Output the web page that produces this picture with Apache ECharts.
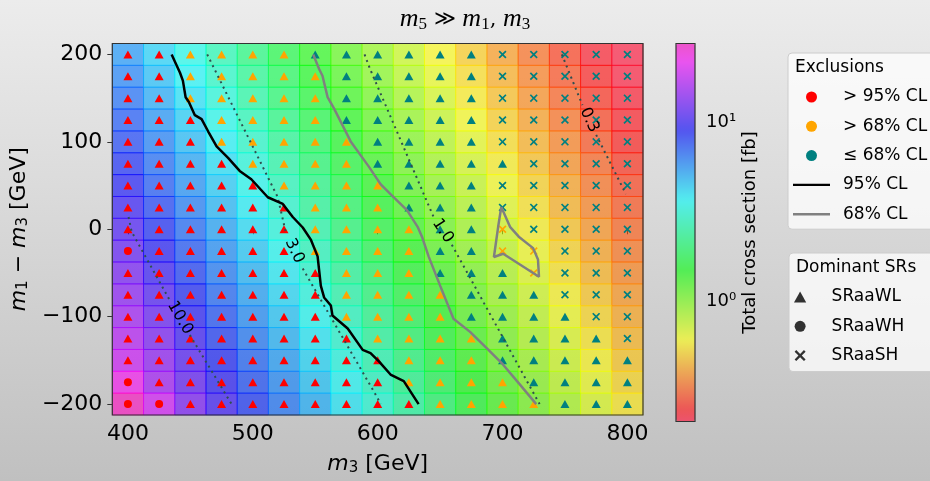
<!DOCTYPE html>
<html>
<head>
<meta charset="utf-8">
<title>m5 &gt;&gt; m1, m3</title>
<script src="https://cdn.jsdelivr.net/npm/echarts@6/dist/echarts.min.js"></script>
<style>
  html, body { margin: 0; padding: 0; }
  #chart { width: 930px; height: 481px; background: linear-gradient(to bottom, #ececec, #c0c0c0); }
</style>
</head>
<body>
<div id="chart"></div>
<script>
// grid points: m3 along x, m1 - m3 along y (rows listed from top to bottom)
const m3Values = [400, 425, 450, 475, 500, 525, 550, 575, 600, 625, 650, 675, 700, 725, 750, 775, 800];
const dmValues = [200, 175, 150, 125, 100, 75, 50, 25, 0, -25, -50, -75, -100, -125, -150, -175, -200];

// total cross section [fb], one row per dmValues entry, one column per m3Values entry
const crossSection = [
  [5.51, 4.35, 3.45, 2.74, 2.19, 1.75, 1.41, 1.14, 0.919, 0.747, 0.608, 0.498, 0.408, 0.337, 0.278, 0.230, 0.212],
  [5.99, 4.73, 3.74, 2.96, 2.36, 1.89, 1.52, 1.23, 0.990, 0.800, 0.653, 0.534, 0.438, 0.360, 0.297, 0.246, 0.216],
  [6.50, 5.13, 4.06, 3.22, 2.56, 2.05, 1.65, 1.32, 1.07, 0.864, 0.703, 0.573, 0.469, 0.385, 0.318, 0.263, 0.225],
  [7.08, 5.57, 4.40, 3.49, 2.77, 2.21, 1.77, 1.43, 1.15, 0.929, 0.755, 0.615, 0.502, 0.412, 0.340, 0.281, 0.236],
  [7.70, 6.06, 4.78, 3.78, 3.00, 2.39, 1.91, 1.54, 1.24, 1.00, 0.811, 0.660, 0.539, 0.442, 0.364, 0.300, 0.248],
  [8.37, 6.58, 5.19, 4.10, 3.26, 2.59, 2.07, 1.66, 1.33, 1.08, 0.873, 0.710, 0.578, 0.473, 0.388, 0.321, 0.266],
  [9.14, 7.17, 5.65, 4.46, 3.53, 2.81, 2.24, 1.79, 1.44, 1.16, 0.939, 0.763, 0.621, 0.508, 0.417, 0.343, 0.284],
  [9.97, 7.80, 6.13, 4.84, 3.83, 3.05, 2.42, 1.94, 1.56, 1.26, 1.01, 0.819, 0.667, 0.546, 0.446, 0.367, 0.303],
  [10.9, 8.50, 6.66, 5.25, 4.15, 3.29, 2.62, 2.09, 1.68, 1.35, 1.09, 0.882, 0.717, 0.583, 0.478, 0.393, 0.324],
  [11.8, 9.26, 7.25, 5.71, 4.51, 3.57, 2.84, 2.26, 1.81, 1.45, 1.18, 0.946, 0.770, 0.628, 0.513, 0.420, 0.347],
  [12.9, 10.1, 7.90, 6.21, 4.89, 3.87, 3.07, 2.44, 1.96, 1.57, 1.26, 1.02, 0.829, 0.674, 0.550, 0.451, 0.371],
  [14.0, 11.0, 8.60, 6.74, 5.32, 4.20, 3.34, 2.65, 2.12, 1.70, 1.36, 1.10, 0.892, 0.725, 0.591, 0.483, 0.397],
  [15.4, 12.0, 9.37, 7.34, 5.78, 4.56, 3.61, 2.87, 2.29, 1.83, 1.47, 1.19, 0.959, 0.778, 0.634, 0.518, 0.425],
  [16.8, 13.1, 10.2, 7.99, 6.28, 4.95, 3.92, 3.10, 2.48, 1.98, 1.59, 1.28, 1.03, 0.837, 0.681, 0.556, 0.455],
  [18.4, 14.3, 11.2, 8.70, 6.81, 5.38, 4.25, 3.37, 2.68, 2.14, 1.72, 1.38, 1.11, 0.900, 0.731, 0.596, 0.488],
  [22.5, 15.6, 11.9, 9.49, 7.42, 5.84, 4.61, 3.65, 2.90, 2.31, 1.85, 1.49, 1.20, 0.969, 0.787, 0.640, 0.523],
  [27.7, 19.0, 13.2, 10.3, 8.09, 6.36, 5.01, 3.96, 3.14, 2.50, 2.00, 1.61, 1.29, 1.05, 0.846, 0.688, 0.561]
];

// per point: exclusion (r >95%, o >68%, t <=68%) + dominant SR (^ SRaaWL, o SRaaWH, x SRaaSH)
const pointCodes = [
  'r^ r^ o^ o^ o^ o^ t^ t^ t^ t^ t^ t^ tx tx tx tx tx',
  'r^ r^ o^ o^ o^ o^ o^ t^ t^ t^ t^ t^ tx tx tx tx tx',
  'r^ r^ o^ o^ o^ o^ o^ t^ t^ t^ t^ t^ tx tx tx tx tx',
  'r^ r^ r^ o^ o^ o^ o^ t^ t^ t^ t^ t^ tx tx tx tx tx',
  'r^ r^ r^ o^ o^ o^ o^ o^ t^ t^ t^ t^ tx tx tx tx tx',
  'r^ r^ r^ r^ o^ o^ o^ o^ t^ t^ t^ t^ t^ tx tx tx tx',
  'r^ r^ r^ r^ r^ o^ o^ o^ o^ t^ t^ t^ tx tx tx tx tx',
  'r^ r^ r^ r^ r^ r^ o^ o^ o^ t^ t^ t^ tx tx tx tx tx',
  'r^ r^ r^ r^ r^ r^ o^ o^ o^ o^ t^ t^ ox tx tx tx tx',
  'ro r^ r^ r^ r^ r^ o^ o^ o^ o^ t^ t^ ox ox tx tx tx',
  'r^ r^ r^ r^ r^ r^ r^ o^ o^ o^ t^ t^ t^ ox tx tx tx',
  'r^ r^ r^ r^ r^ r^ r^ o^ o^ o^ o^ t^ t^ t^ tx tx tx',
  'r^ r^ r^ r^ r^ r^ r^ o^ o^ o^ o^ t^ t^ t^ t^ tx tx',
  'r^ r^ r^ r^ r^ r^ r^ r^ o^ o^ o^ o^ t^ t^ t^ t^ tx',
  'r^ r^ r^ r^ r^ r^ r^ r^ r^ o^ o^ o^ t^ t^ t^ t^ t^',
  'ro r^ r^ r^ r^ r^ r^ r^ r^ o^ o^ o^ o^ t^ t^ t^ t^',
  'ro ro r^ r^ r^ r^ r^ r^ r^ r^ o^ o^ o^ o^ t^ t^ t^'
];

// exclusion contours [m3, m1 - m3]
const cl95Line = [[435, 200], [441.7, 179], [444, 170], [446.2, 151], [448.8, 145.6], [453.6, 130.5], [459, 126],
  [464.3, 111.8], [471, 94.8], [480.2, 81.7], [489.5, 66.7], [498.8, 57.2], [512, 36.6], [524, 29], [532, 14],
  [540, 2], [546.6, -12.2], [551.9, -31], [554.5, -64.8], [557.1, -78], [562.5, -87.3], [563.8, -98.6],
  [576, -113.6], [588, -138], [594.3, -141.7], [601, -151.2], [610.3, -166.2], [620.9, -173.7], [632.8, -200]];
const cl68Line = [[548.4, 200], [553.2, 183], [555.8, 175.6], [559.9, 151.2], [565.1, 138], [578.4, 100.5],
  [592.5, 72.5], [602.3, 51.6], [610.3, 40.3], [623.6, 21.6], [632, 2.8], [635.5, -8.5], [640.8, -31],
  [650.1, -64.8], [660.7, -102.3], [674, -117.4], [687.3, -136.1], [700.5, -155], [713.8, -177.5], [727, -200]];
const cl68Island = [[699, 25.4], [696.5, 2.8], [693.1, -31.8], [700.5, -28], [729.2, -54.3], [728.4, -34.7],
  [724.5, -21.6], [713, -8.5], [706, 2.8], [699, 25.4]];

// dotted cross-section contours [fb]; each is split where its label sits
const xsecLevels = ['10.0', '3.0', '1.0', '0.3'];
const xsecLines = [
  [[[400.5, 14], [403, -3], [433.7, -81.7]], [[449.6, -121], [483, -200]]],
  [[[463.5, 200], [520, 36.6], [526.6, -4.7]], [[540, -45], [599.7, -192.5], [602.3, -200]]],
  [[[589.5, 200], [594, 183], [644.8, 14]], [[659.4, -17.8], [729.7, -200]]],
  [[[747.5, 200], [764, 142]], [[775, 108], [798.8, 40.3]]]
];

const xTicks = [400, 500, 600, 700, 800];
const yTicks = [-200, -100, 0, 100, 200];
const cbarMajor = [1, 10];
const cbarMinor = [0.3, 0.4, 0.5, 0.6, 0.7, 0.8, 0.9, 2, 3, 4, 5, 6, 7, 8, 9, 20];

// ---------------------------------------------------------------------------

const FONT = 'DejaVu Sans';
const levelNames = { r: '> 95% CL', o: '> 68% CL', t: '≤ 68% CL' };
const levelColors = { r: '#ff0000', o: '#ffa500', t: '#008080' };
const srNames = { '^': 'SRaaWL', 'o': 'SRaaWH', 'x': 'SRaaSH' };

const X_PATH = 'path://M0,1.5L1.5,0L5,3.5L8.5,0L10,1.5L6.5,5L10,8.5L8.5,10L5,6.5L1.5,10L0,8.5L3.5,5Z';
const TRI_PATH = 'path://M5,0L10,9L0,9Z';
const LINE_PATH = 'path://M0,0H37V2.4H0Z';
const plotSymbols = { '^': 'triangle', 'o': 'circle', 'x': X_PATH };
const plotSizes = { '^': [9, 8], 'o': 8, 'x': 8 };
const legendSymbols = { '^': TRI_PATH, 'o': 'circle', 'x': X_PATH };

// matplotlib gist_rainbow, drawn with alpha 0.6 like the original
const RAINBOW = [[0, 255, 0, 41], [0.03, 255, 0, 0], [0.215, 255, 255, 0], [0.4, 0, 255, 0],
  [0.586, 0, 255, 255], [0.77, 0, 0, 255], [0.954, 255, 0, 255], [1, 255, 0, 191]];
function rainbow(f) {
  let i = 1;
  while (i < RAINBOW.length - 1 && f > RAINBOW[i][0]) i++;
  const a = RAINBOW[i - 1], b = RAINBOW[i];
  const t = (f - a[0]) / (b[0] - a[0]);
  const c = [1, 2, 3].map(k => Math.round(a[k] + (b[k] - a[k]) * t));
  return `rgba(${c[0]},${c[1]},${c[2]},0.6)`;
}
const cmapColors = [];
for (let i = 0; i <= 60; i++) cmapColors.push(rainbow(i / 60));

const halfX = (m3Values[1] - m3Values[0]) / 2;
const halfY = (dmValues[0] - dmValues[1]) / 2;

const cells = [];
dmValues.forEach((dm, i) => m3Values.forEach((m3, j) => cells.push([m3, dm, Math.log10(crossSection[i][j])])));
const allXsec = crossSection.flat();
const logMin = Math.log10(Math.min(...allXsec));
const logMax = Math.log10(Math.max(...allXsec));

const series = [];

// cross-section cells
series.push({
  type: 'custom', name: 'Total cross section', xAxisIndex: 0, yAxisIndex: 0,
  data: cells, encode: { x: 0, y: 1 }, z: 1, silent: true,
  renderItem: (params, api) => {
    const x = api.value(0), y = api.value(1);
    const p0 = api.coord([x - halfX, y + halfY]);
    const p1 = api.coord([x + halfX, y - halfY]);
    const c = api.visual('color');
    return {
      type: 'rect',
      shape: { x: p0[0], y: p0[1], width: p1[0] - p0[0], height: p1[1] - p0[1] },
      style: { fill: c, stroke: c, lineWidth: 1 }
    };
  }
});

// markers by exclusion level, symbol by dominant SR
['r', 'o', 't'].forEach(lv => {
  const pts = [];
  pointCodes.forEach((row, i) => row.split(' ').forEach((code, j) => {
    if (code[0] !== lv) return;
    pts.push({ value: [m3Values[j], dmValues[i]], symbol: plotSymbols[code[1]], symbolSize: plotSizes[code[1]] });
  }));
  series.push({
    type: 'scatter', name: levelNames[lv], data: pts, z: 3, silent: true,
    itemStyle: { color: levelColors[lv], opacity: 1 }
  });
});

// dotted cross-section contours
xsecLines.forEach((segs, k) => segs.forEach(seg => series.push({
  type: 'line', name: 'xsec ' + xsecLevels[k], data: seg, symbol: 'none', z: 4, silent: true,
  lineStyle: { color: '#2f4f4f', width: 2, type: [2, 4] }
})));

// contour labels, centred in the gap and turned along it
series.push({
  type: 'custom', name: 'xsec labels', z: 5, silent: true,
  data: xsecLines.map((segs, k) => {
    const a = segs[0][segs[0].length - 1], b = segs[1][0];
    return [a[0], a[1], b[0], b[1], k];
  }),
  encode: { x: [0, 2], y: [1, 3] },
  renderItem: (params, api) => {
    const a = api.coord([api.value(0), api.value(1)]);
    const b = api.coord([api.value(2), api.value(3)]);
    let ang = Math.atan2(b[1] - a[1], b[0] - a[0]);
    if (ang > Math.PI / 2) ang -= Math.PI;
    if (ang < -Math.PI / 2) ang += Math.PI;
    return {
      type: 'text', x: (a[0] + b[0]) / 2, y: (a[1] + b[1]) / 2, rotation: -ang,
      style: { text: xsecLevels[api.value(4)], align: 'center', verticalAlign: 'middle',
        fontSize: 16, fontFamily: FONT, fill: '#000' }
    };
  }
});

// exclusion contours
series.push({ type: 'line', name: '95% CL', data: cl95Line, symbol: 'none', z: 4, silent: true,
  lineStyle: { color: '#000', width: 2.5 }, itemStyle: { color: '#000' } });
series.push({ type: 'line', name: '68% CL', data: cl68Line, symbol: 'none', z: 4, silent: true,
  lineStyle: { color: '#808080', width: 2.5 }, itemStyle: { color: '#808080' } });
series.push({ type: 'line', name: '68% CL', data: cl68Island, symbol: 'none', z: 4, silent: true,
  lineStyle: { color: '#808080', width: 2.5 }, itemStyle: { color: '#808080' } });

// legend entries for the dominant SRs
Object.keys(srNames).forEach(k => series.push({
  type: 'scatter', name: srNames[k], data: [], symbol: legendSymbols[k], itemStyle: { color: '#000' }
}));

const minus = v => (v < 0 ? '\u2212' + (-v) : String(v));
const tickLabel = { fontSize: 22, fontFamily: FONT, color: '#000' };
const sup = { 0: '\u2070', 1: '\u00b9' };
const mathRich = {
  i: { fontStyle: 'italic', fontSize: 22, fontFamily: FONT, color: '#000' },
  s: { fontSize: 15, fontFamily: FONT, color: '#000', padding: [9, 0, 0, 0] },
  n: { fontSize: 22, fontFamily: FONT, color: '#000' }
};
const legendBox = {
  orient: 'vertical', selectedMode: false, z: 3,
  itemWidth: 37, itemHeight: 11, itemGap: 9.3,
  backgroundColor: 'rgba(255,255,255,0.75)', borderColor: '#cccccc', borderWidth: 1, borderRadius: 4,
  textStyle: { fontSize: 17, fontFamily: FONT, color: '#000', lineHeight: 20, padding: [0, 0, 0, 8] }
};
const legendTitle = { fontSize: 17, fontFamily: FONT, fontWeight: 'normal', color: '#000' };

const option = {
  animation: false,
  textStyle: { fontFamily: FONT },
  title: [
    {
      left: 'center', top: 1,
      text: '{m|m}{s|5}{t| ≫ }{m|m}{s|1}{t|, }{m|m}{s|3}',
      textStyle: {
        fontWeight: 'normal',
        rich: {
          m: { fontFamily: 'Liberation Serif', fontStyle: 'italic', fontWeight: 'normal', fontSize: 26, color: '#000' },
          s: { fontFamily: 'Liberation Serif', fontWeight: 'normal', fontSize: 17, color: '#000', padding: [10, 0, 0, 0] },
          t: { fontFamily: 'DejaVu Serif', fontWeight: 'normal', fontSize: 21, color: '#000' }
        }
      }
    },
    { text: 'Exclusions', left: 795, top: 59, padding: 0, z: 10, textStyle: legendTitle },
    { text: 'Dominant SRs', left: 796, top: 259, padding: 0, z: 10, textStyle: legendTitle }
  ],
  legend: [
    Object.assign({}, legendBox, {
      left: 788, top: 53, padding: [34, 50, 5, 5],
      data: [
        { name: levelNames.r, icon: 'circle' },
        { name: levelNames.o, icon: 'circle' },
        { name: levelNames.t, icon: 'circle' },
        { name: '95% CL', icon: LINE_PATH },
        { name: '68% CL', icon: LINE_PATH }
      ]
    }),
    Object.assign({}, legendBox, {
      left: 789, top: 253, padding: [34, 50, 6, 5],
      data: Object.keys(srNames).map(k => ({ name: srNames[k], icon: legendSymbols[k] }))
    })
  ],
  grid: [
    { left: 110, top: 43.5, width: 533, height: 378, show: true, z: 10,
      backgroundColor: 'transparent', borderColor: '#333', borderWidth: 1.2 },
    { left: 676, top: 43.5, width: 19, height: 378, show: true, z: 10,
      backgroundColor: 'transparent', borderColor: '#333', borderWidth: 1.2 },
    { left: 676, top: 43.5, width: 19, height: 378, show: false }
  ],
  xAxis: [
    {
      type: 'value', gridIndex: 0, min: m3Values[0] - halfX, max: m3Values[m3Values.length - 1] + halfX,
      axisLine: { show: false }, splitLine: { show: false },
      axisTick: { show: true, length: 5, customValues: xTicks, lineStyle: { color: '#333' } },
      axisLabel: Object.assign({ customValues: xTicks, margin: 8 }, tickLabel),
      name: '{i|m}{s|3}{n| [GeV]}', nameLocation: 'middle', nameGap: 37,
      nameTextStyle: { rich: mathRich }
    },
    { type: 'value', gridIndex: 1, min: 0, max: 1, show: false },
    { type: 'value', gridIndex: 2, min: 0, max: 1, show: false }
  ],
  yAxis: [
    {
      type: 'value', gridIndex: 0, min: dmValues[dmValues.length - 1] - halfY, max: dmValues[0] + halfY,
      axisLine: { show: false }, splitLine: { show: false },
      axisTick: { show: true, length: 5, customValues: yTicks, lineStyle: { color: '#333' } },
      axisLabel: Object.assign({ customValues: yTicks, margin: 10, formatter: minus }, tickLabel),
      name: '{i|m}{s|1}{n| − }{i|m}{s|3}{n| [GeV]}', nameLocation: 'middle', nameGap: 74,
      nameTextStyle: { rich: mathRich }
    },
    {
      type: 'value', gridIndex: 1, min: logMin, max: logMax, position: 'right',
      axisLine: { show: false }, splitLine: { show: false }, axisLabel: { show: false },
      axisTick: { show: true, length: 3.5, customValues: cbarMinor.map(Math.log10), lineStyle: { color: '#333' } }
    },
    {
      type: 'value', gridIndex: 2, min: logMin, max: logMax, position: 'right',
      axisLine: { show: false }, splitLine: { show: false },
      axisTick: { show: true, length: 6, customValues: cbarMajor.map(Math.log10), lineStyle: { color: '#333' } },
      axisLabel: {
        customValues: cbarMajor.map(Math.log10), margin: 11, fontSize: 18, fontFamily: FONT, color: '#000',
        formatter: v => '10' + sup[Math.round(v)]
      },
      name: 'Total cross section [fb]', nameLocation: 'middle', nameGap: 46,
      nameTextStyle: { fontSize: 18, fontFamily: FONT, color: '#000' }
    }
  ],
  visualMap: {
    type: 'continuous', seriesIndex: 0, dimension: 2, min: logMin, max: logMax,
    inRange: { color: cmapColors },
    left: 676, top: 43.5, itemWidth: 19, itemHeight: 378, padding: 0,
    calculable: false, hoverLink: false, text: null, showLabel: false
  },
  series: series
};

const chart = echarts.init(document.getElementById('chart'));
chart.setOption(option);
window.addEventListener('resize', () => chart.resize());
</script>
</body>
</html>
